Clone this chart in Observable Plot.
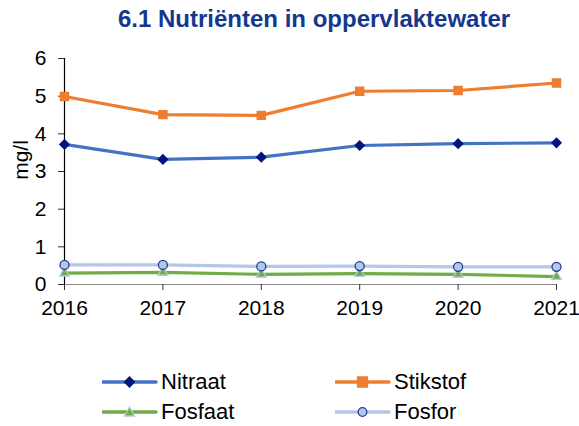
<!DOCTYPE html>
<html><head><meta charset="utf-8">
<script src="https://cdn.jsdelivr.net/npm/d3@7"></script>
<script src="https://cdn.jsdelivr.net/npm/@observablehq/plot@0.6"></script>
<style>
body{margin:0;background:#fff;font-family:"Liberation Sans",Arial,sans-serif;}
#wrap{position:relative;width:579px;height:426px;overflow:hidden;}
#title{position:absolute;left:118px;top:5px;white-space:nowrap;font-weight:bold;font-size:24px;color:#15388f;}
#chart{position:absolute;left:0;top:0;}
#ylab{position:absolute;left:21px;top:160px;transform:translate(-50%,-50%) rotate(-90deg);font-size:21px;white-space:nowrap;}
.leg{position:absolute;display:flex;align-items:center;font-size:22px;color:#000;}
.leg svg{margin-right:3px;}
</style></head>
<body><div id="wrap"><div id="chart"></div><div id="title">6.1 Nutriënten in oppervlaktewater</div><div id="ylab">mg/l</div></div>
<script>
const years = [2016, 2017, 2018, 2019, 2020, 2021];
const nitraat = [3.72, 3.32, 3.38, 3.69, 3.74, 3.76];
const stikstof = [4.99, 4.51, 4.49, 5.13, 5.15, 5.35];
const fosfaat = [0.30, 0.32, 0.27, 0.29, 0.27, 0.21];
const fosfor = [0.52, 0.52, 0.48, 0.49, 0.47, 0.47];
const seriesNames = ["Nitraat", "Stikstof", "Fosfaat", "Fosfor"];
const yTicks = [0, 1, 2, 3, 4, 5, 6];

const styles = {
  Nitraat: {line: "#4472c4", fill: "#00157f", stroke: "#00157f", symbol: "diamond2", r: 4.2},
  Stikstof: {line: "#ed7d31", fill: "#ed7d31", stroke: "#ed7d31", symbol: "square", r: 4.6},
  Fosfaat: {line: "#70ad47", fill: "#70ad47", stroke: "#b4c7e7", symbol: "triangle", r: 3.6},
  Fosfor: {line: "#b4c7e7", fill: "#b4c7e7", stroke: "#1f3c96", symbol: "circle", r: 4.5}
};
const values = {Nitraat: nitraat, Stikstof: stikstof, Fosfaat: fosfaat, Fosfor: fosfor};
const data = seriesNames.map(name => years.map((y, i) => ({year: y, value: values[name][i], series: name})));

const marks = [];
for (const d of data) {
  const s = styles[d[0].series];
  marks.push(Plot.line(d, {x: "year", y: "value", stroke: s.line, strokeWidth: 3.2}));
}
for (const d of data) {
  const s = styles[d[0].series];
  marks.push(Plot.dot(d, {x: "year", y: "value", symbol: () => s.symbol, fill: s.fill, stroke: s.stroke, strokeWidth: 1.3, r: s.r}));
}

const plot = Plot.plot({
  width: 579, height: 330,
  marginLeft: 64, marginRight: 23, marginTop: 58, marginBottom: 46,
  style: {fontSize: "21px", fontFamily: "Liberation Sans, Arial, sans-serif", color: "#000", background: "transparent", overflow: "visible"},
  x: {domain: [2016, 2021]},
  y: {domain: [0, 6]},
  symbol: {type: "identity"},
  marks: [
    Plot.ruleY([0], {stroke: "#888", strokeWidth: 1.2}),
    Plot.axisX({ticks: years, tickFormat: "d", tickSize: 6, tickPadding: 10, label: null, stroke: "#333"}),
    Plot.axisY({ticks: yTicks, tickFormat: "d", tickSize: 6, tickPadding: 12, label: null, stroke: "#333"}),
    Plot.ruleX([2016], {stroke: "#000", strokeWidth: 1.2}),
    ...marks
  ]
});
document.getElementById("chart").appendChild(plot);

// legend
const legPos = {Nitraat: [102, 382], Stikstof: [335, 382], Fosfaat: [102, 412], Fosfor: [335, 412]};
const symPath = {
  diamond2: "M0,-5L5,0L0,5L-5,0Z",
  square: "M-5,-5H5V5H-5Z",
  triangle: "M0,-5L5,4H-5Z",
  circle: "M4.3,0A4.3,4.3 0 1,1 -4.3,0A4.3,4.3 0 1,1 4.3,0Z"
};
for (const name of seriesNames) {
  const s = styles[name];
  const [x, y] = legPos[name];
  const div = document.createElement("div");
  div.className = "leg";
  div.style.left = x + "px";
  div.style.top = (y - 13) + "px";
  div.style.height = "26px";
  div.innerHTML = `<svg width="56" height="24"><line x1="1" x2="54" y1="12" y2="12" stroke="${s.line}" stroke-width="3.5" stroke-linecap="round"/><path transform="translate(27.5,12)" d="${symPath[s.symbol]}" fill="${s.fill}" stroke="${s.stroke}" stroke-width="1.3"/></svg><span>${name}</span>`;
  document.getElementById("wrap").appendChild(div);
}
</script></body></html>
